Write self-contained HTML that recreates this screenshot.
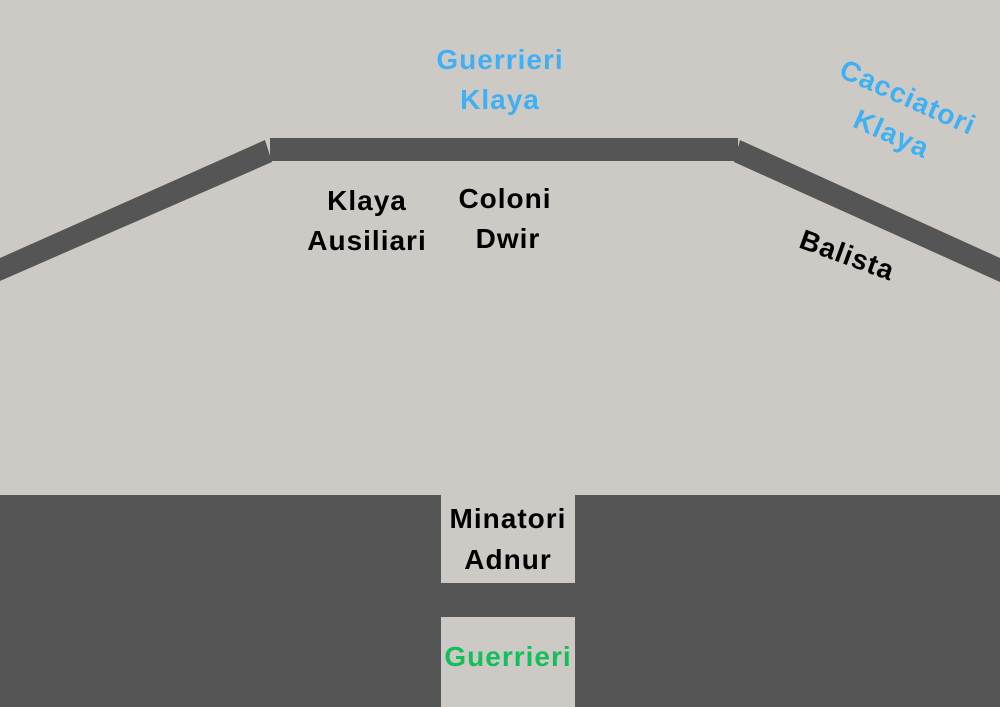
<!DOCTYPE html>
<html><head><style>
body{margin:0;width:1000px;height:707px;overflow:hidden;background:#cdcac5;}
svg{display:block}
text{font-family:"Liberation Sans","DejaVu Sans",sans-serif;font-weight:bold;font-size:28px;letter-spacing:1px;text-anchor:middle}
</style></head><body>
<svg width="1000" height="707" viewBox="0 0 1000 707">
<rect width="1000" height="707" fill="#cdcac5"/>
<polygon points="0,258 265,140 272,162 0,281" fill="#555"/>
<rect x="270" y="138" width="468" height="23" fill="#555"/>
<polygon points="740,140 1000,258 1000,282 734,162" fill="#555"/>
<rect x="0" y="495" width="1000" height="212" fill="#555"/>
<rect x="441" y="495" width="134" height="88" fill="#cdcac5"/>
<rect x="441" y="617" width="134" height="90" fill="#cdcac5"/>
<text x="500" y="69" fill="#3fb0f3">Guerrieri</text>
<text x="500" y="109" fill="#3fb0f3">Klaya</text>
<text x="367" y="210" fill="#000">Klaya</text>
<text x="367" y="250" fill="#000">Ausiliari</text>
<text x="505" y="208" fill="#000">Coloni</text>
<text x="508" y="248" fill="#000">Dwir</text>
<g transform="translate(900,115) rotate(24)">
<text x="0" y="-10" fill="#3fb0f3">Cacciatori</text>
<text x="0" y="30" fill="#3fb0f3">Klaya</text>
</g>
<text transform="translate(844,264) rotate(20)" fill="#000">Balista</text>
<text x="508" y="528" fill="#000">Minatori</text>
<text x="508" y="569" fill="#000">Adnur</text>
<text x="508" y="666" fill="#13bf5b">Guerrieri</text>
</svg>
</body></html>
